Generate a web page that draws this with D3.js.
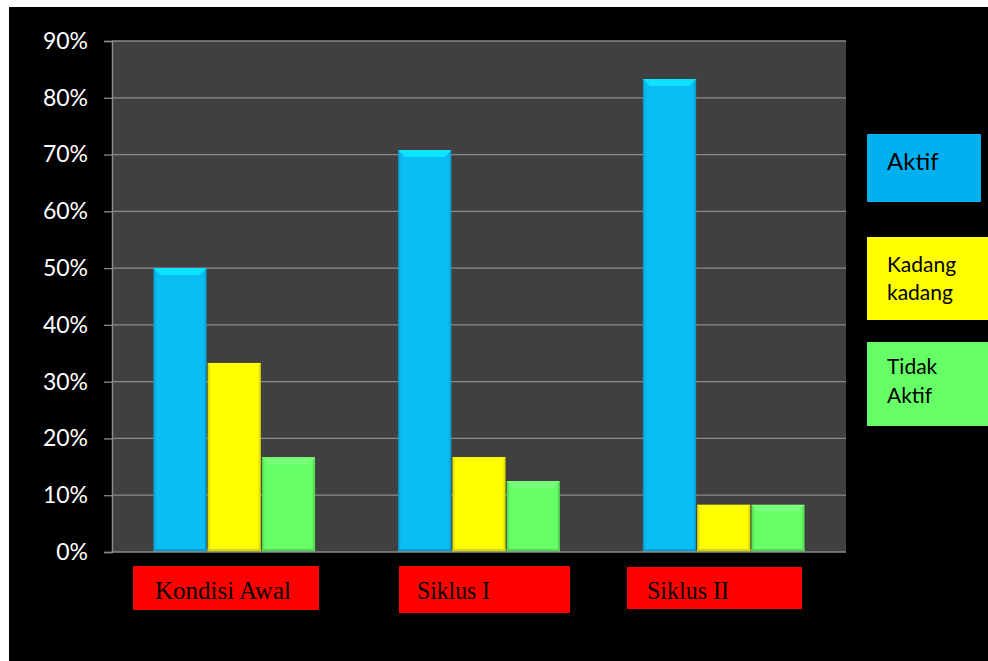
<!DOCTYPE html>
<html><head><meta charset="utf-8">
<script src="https://cdn.jsdelivr.net/npm/d3@7"></script>
<style>html,body{margin:0;padding:0;background:#fff;}svg{display:block;}</style>
</head><body>
<script>
const categories = ["Kondisi Awal", "Siklus I", "Siklus II"];
const seriesNames = ["Aktif", "Kadang kadang", "Tidak Aktif"];
const legendLines = [["Aktif"], ["Kadang", "kadang"], ["Tidak", "Aktif"]];
const aktif = [50.0, 70.8, 83.3];
const kadang = [33.3, 16.7, 8.3];
const tidakAktif = [16.7, 12.5, 8.3];
const yTicks = [0, 10, 20, 30, 40, 50, 60, 70, 80, 90];
const colors = ["#0BBDF5", "#FFFF00", "#66FF66"];
const legendColors = ["#00B0F0", "#FFFF00", "#66FF66"];

const W = 988, H = 661;
const svg = d3.select("body").append("svg").attr("width", W).attr("height", H);
svg.append("rect").attr("x", 9).attr("y", 7).attr("width", W - 9).attr("height", H - 7).attr("fill", "#000");

const plot = {l: 112, r: 846, t: 41, b: 552};
svg.append("rect").attr("x", plot.l).attr("y", plot.t).attr("width", plot.r - plot.l).attr("height", plot.b - plot.t).attr("fill", "#404040");

const y = d3.scaleLinear().domain([0, 90]).range([plot.b, plot.t]);
const x0 = d3.scaleBand().domain(categories).range([plot.l, plot.r]).paddingInner(0.335).paddingOuter(0.167);
const x1 = d3.scaleBand().domain(seriesNames).range([0, x0.bandwidth()]).padding(0);

// gridlines
svg.append("g").selectAll("line").data(yTicks.filter(d => d > 0)).join("line")
  .attr("x1", plot.l).attr("x2", plot.r).attr("y1", d => y(d)).attr("y2", d => y(d))
  .attr("stroke", "#8a8a8a").attr("stroke-width", 1.3);

// y axis
const yAxis = svg.append("g").attr("transform", `translate(${plot.l},0)`)
  .call(d3.axisLeft(y).tickValues(yTicks).tickFormat(d => d + "%").tickSize(8).tickPadding(16));
yAxis.select(".domain").attr("stroke", "#8a8a8a").attr("stroke-width", 1.5);
yAxis.selectAll(".tick line").attr("stroke", "#8a8a8a").attr("stroke-width", 1.3);
yAxis.selectAll(".tick text").attr("fill", "#fff").attr("font-family", "Lato, 'Open Sans', sans-serif").attr("font-size", 23);

// gradients
const defs = svg.append("defs");
colors.forEach((c, i) => {
  const g = defs.append("linearGradient").attr("id", "g" + i).attr("x1", 0).attr("x2", 1).attr("y1", 0).attr("y2", 0);
  const dk = d3.color(c).darker(0.6);
  g.append("stop").attr("offset", 0).attr("stop-color", dk);
  g.append("stop").attr("offset", 0.06).attr("stop-color", c);
  g.append("stop").attr("offset", 0.94).attr("stop-color", c);
  g.append("stop").attr("offset", 1).attr("stop-color", dk);
});

const data = categories.map((c, i) => ({cat: c, vals: [aktif[i], kadang[i], tidakAktif[i]]}));
const groups = svg.append("g").selectAll("g").data(data).join("g")
  .attr("transform", d => `translate(${x0(d.cat)},0)`);
groups.each(function(d) {
  const g = d3.select(this);
  d.vals.forEach((v, i) => {
    const bx = x1(seriesNames[i]) + 0.5, bw = x1.bandwidth() - 1;
    const top = y(v), bot = y(0);
    g.append("rect").attr("x", bx).attr("y", top).attr("width", bw).attr("height", bot - top).attr("fill", `url(#g${i})`);
    const hl = d3.color(colors[i]).brighter(0.5);
    const e = 7;
    g.append("path").attr("d", `M${bx},${top}L${bx + bw},${top}L${bx + bw - e},${top + e}L${bx + e},${top + e}Z`).attr("fill", hl);
    g.append("rect").attr("x", bx).attr("y", bot - 3).attr("width", bw).attr("height", 3).attr("fill", d3.color(colors[i]).darker(0.5));
  });
});

// bottom axis line
svg.append("line").attr("x1", plot.l).attr("x2", plot.r).attr("y1", plot.b).attr("y2", plot.b).attr("stroke", "#8a8a8a").attr("stroke-width", 1.5);

// category label boxes
const catBoxes = [{x: 133, y: 566, w: 186, h: 44, tx: 155, tl: 136}, {x: 399, y: 566, w: 171, h: 47, tx: 417, tl: 73}, {x: 627, y: 567, w: 175, h: 42, tx: 647, tl: 82}];
categories.forEach((c, i) => {
  const b = catBoxes[i];
  svg.append("rect").attr("x", b.x).attr("y", b.y).attr("width", b.w).attr("height", b.h).attr("fill", "#FF0000");
  svg.append("text").attr("x", b.tx).attr("y", 599).attr("font-family", "'Liberation Serif', 'Times New Roman', serif")
    .attr("font-size", 25).attr("fill", "#000").attr("textLength", b.tl).attr("lengthAdjust", "spacingAndGlyphs").text(c);
});

// legend
const legBoxes = [{y: 134, h: 68, w: 114, fs: 24, ys: [170]}, {y: 237, h: 83, w: 121, fs: 21, ys: [272, 300]}, {y: 342, h: 84, w: 121, fs: 21, ys: [374, 403]}];
seriesNames.forEach((s, i) => {
  const b = legBoxes[i];
  svg.append("rect").attr("x", 867).attr("y", b.y).attr("width", b.w).attr("height", b.h).attr("fill", legendColors[i]);
  legendLines[i].forEach((t, j) => {
    svg.append("text").attr("x", 887).attr("y", b.ys[j]).attr("font-family", "Lato, 'Open Sans', sans-serif")
      .attr("font-size", b.fs).attr("fill", "#000").text(t);
  });
});
</script>
</body></html>
